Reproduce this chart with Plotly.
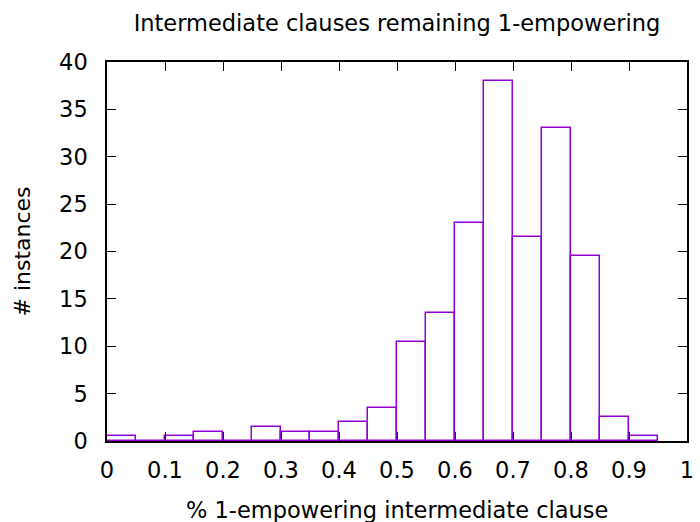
import plotly.graph_objects as go

bin_starts = [0.0, 0.05, 0.1, 0.15, 0.2, 0.25, 0.3, 0.35, 0.4, 0.45,
              0.5, 0.55, 0.6, 0.65, 0.7, 0.75, 0.8, 0.85, 0.9]
counts = [0.5, 0, 0.5, 1, 0, 1.5, 1, 1, 2, 3.5,
          10.5, 13.5, 23, 38, 21.5, 33, 19.5, 2.5, 0.5]
bin_width = 0.05
x_ticks = [0, 0.1, 0.2, 0.3, 0.4, 0.5, 0.6, 0.7, 0.8, 0.9, 1]
x_labels = ["0", "0.1", "0.2", "0.3", "0.4", "0.5", "0.6", "0.7", "0.8", "0.9", "1"]
y_ticks = [0, 5, 10, 15, 20, 25, 30, 35, 40]
x_title = "% 1-empowering intermediate clause"

centers = [s + bin_width / 2 for s in bin_starts]

FS = 22.5
fam = "DejaVu Sans"
H, T, B = 522, 62, 81
plot_h = H - T - B

fig = go.Figure()
fig.add_trace(go.Bar(
    x=centers, y=counts, width=[bin_width] * len(centers),
    marker=dict(color="white", line=dict(color="#9400D3", width=1.5)),
    showlegend=False,
))

fig.update_layout(
    width=700, height=H,
    margin=dict(l=107, r=11, t=T, b=B),
    paper_bgcolor="white", plot_bgcolor="white",
    font=dict(family=fam, size=FS, color="black"),
    title=dict(text="Intermediate clauses remaining 1-empowering",
               x=0.5, xref="paper", xanchor="center",
               y=1 - 23 / H, yref="container", yanchor="middle",
               font=dict(family=fam, size=FS, color="black")),
    bargap=0,
    annotations=[dict(
        text=x_title, xref="paper", yref="paper",
        x=0.5, xanchor="center", y=-(510 - (H - B)) / plot_h, yanchor="middle",
        showarrow=False, font=dict(family=fam, size=FS, color="black"),
    )],
)
fig.update_xaxes(
    range=[0, 1], tickvals=x_ticks, ticktext=x_labels,
    tickfont=dict(family=fam, size=FS, color="black"),
    ticks="inside", ticklen=9, tickcolor="black", tickwidth=1,
    showline=True, linecolor="black", linewidth=1.5, mirror="ticks",
    showgrid=False, zeroline=False,
    ticklabelstandoff=8, automargin=False,
)
fig.update_yaxes(
    range=[0, 40], tickvals=y_ticks,
    tickfont=dict(family=fam, size=FS, color="black"),
    ticks="inside", ticklen=9, tickcolor="black", tickwidth=1,
    showline=True, linecolor="black", linewidth=1.5, mirror="ticks",
    showgrid=False, zeroline=False,
    ticklabelstandoff=13,
    title=dict(text="# instances", standoff=22,
               font=dict(family=fam, size=22, color="black")),
)

fig.write_html("out.html")
